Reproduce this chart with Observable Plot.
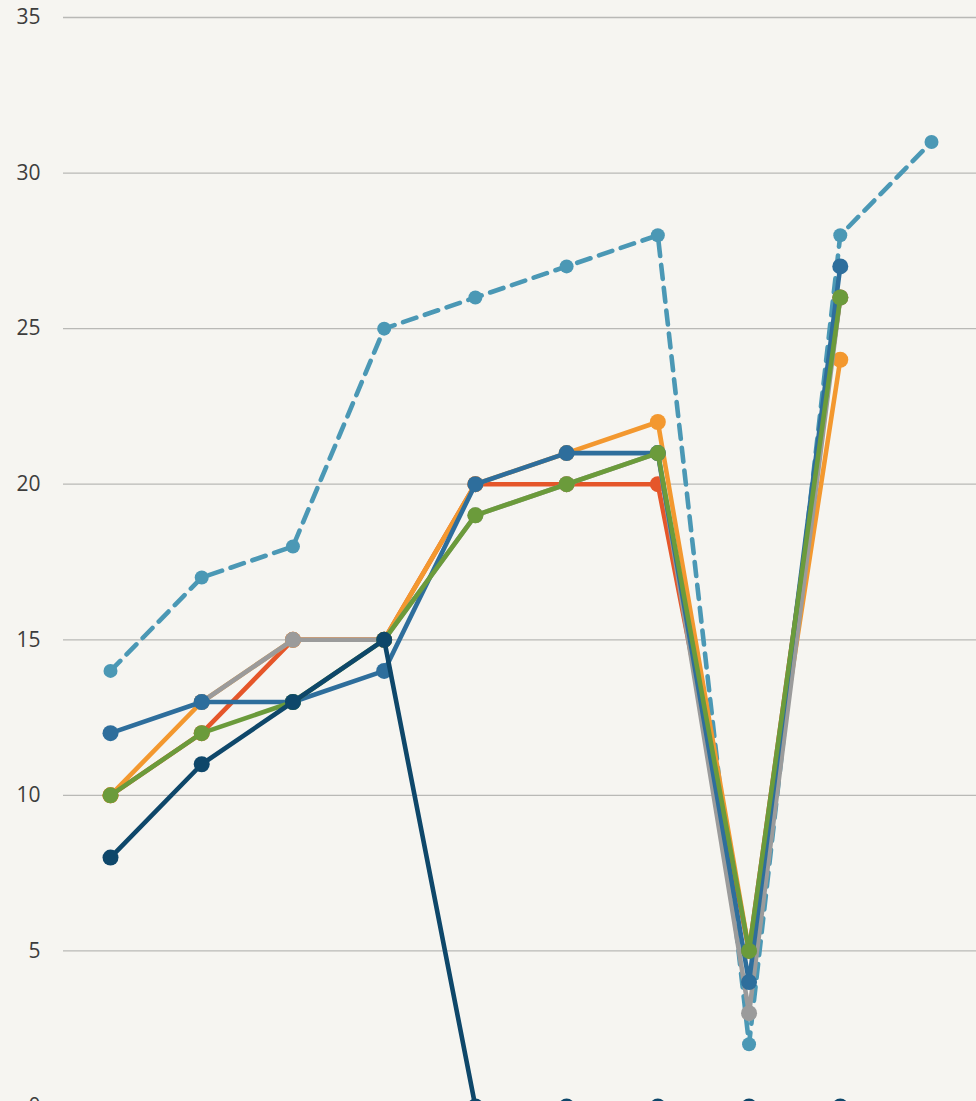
<!DOCTYPE html>
<html>
<head>
<meta charset="utf-8">
<script src="https://cdn.jsdelivr.net/npm/d3@7"></script>
<script src="https://cdn.jsdelivr.net/npm/@observablehq/plot@0.6"></script>
<style>
  html, body { margin: 0; padding: 0; background: #f6f5f1; overflow: hidden; }
  #chart svg { background: #f6f5f1; display: block; }
</style>
</head>
<body>
<div id="chart"></div>
<script>
const periods = [0, 1, 2, 3, 4, 5, 6, 7, 8, 9];
const yTicks = [0, 5, 10, 15, 20, 25, 30, 35];

const dashedSeries = [14, 17, 18, 25, 26, 27, 28, 2, 28, 31];
const redSeries    = [10, 12, 15, 15, 20, 20, 20, 5, 26, null];
const orangeSeries = [10, 13, 15, 15, 20, 21, 22, 5, 24, null];
const graySeries   = [null, 13, 15, 15, 19, 20, 21, 3, 26, null];
const blueSeries   = [12, 13, 13, 14, 20, 21, 21, 4, 27, null];
const greenSeries  = [10, 12, 13, 15, 19, 20, 21, 5, 26, null];
const navySeries   = [8, 11, 13, 15, 0, 0, 0, 0, 0, null];

const series = [
  {name: "dashed", values: dashedSeries, color: "#4b98b5", dash: "14,9", r: 7},
  {name: "red", values: redSeries, color: "#e5562a", dash: null, r: 8},
  {name: "orange", values: orangeSeries, color: "#f3982f", dash: null, r: 8},
  {name: "gray", values: graySeries, color: "#9b9b9b", dash: null, r: 8},
  {name: "blue", values: blueSeries, color: "#2e6e9c", dash: null, r: 8},
  {name: "green", values: greenSeries, color: "#6b9b3b", dash: null, r: 8},
  {name: "navy", values: navySeries, color: "#0e476a", dash: null, r: 8}
];

const marks = [
  Plot.gridY(yTicks, {stroke: "#b9b9b6", strokeOpacity: 1, strokeWidth: 1.3}),
  Plot.axisY(yTicks, {tickSize: 0, tickPadding: 23, fontSize: 21, fill: "#3d3d3d", label: null, fontFamily: "Open Sans"})
];
for (const s of series) {
  const data = periods.map((p, i) => ({p, v: s.values[i]})).filter(d => d.v != null);
  marks.push(Plot.line(data, {x: "p", y: "v", stroke: s.color, strokeWidth: 4.6, strokeDasharray: s.dash, strokeLinejoin: "round"}));
  marks.push(Plot.dot(data, {x: "p", y: "v", fill: s.color, r: s.r, stroke: null}));
}

const chart = Plot.plot({
  width: 976,
  height: 1101,
  marginLeft: 63,
  marginRight: 0,
  marginTop: 17,
  marginBottom: 0,
  style: {background: "#f6f5f1", fontFamily: "Open Sans"},
  x: {type: "linear", domain: [0, 9], range: [110, 931], axis: null},
  y: {domain: [0, 35], range: [1106, 17], axis: null},
  marks
});
document.getElementById("chart").appendChild(chart);
</script>
</body>
</html>
